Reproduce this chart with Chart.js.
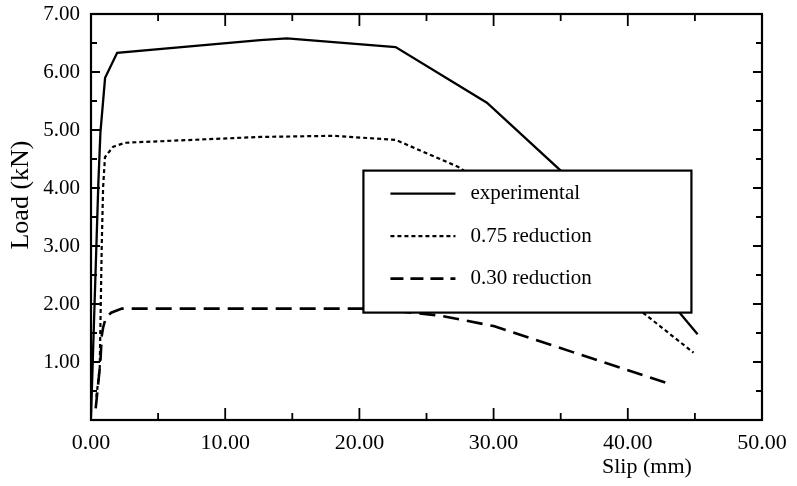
<!DOCTYPE html>
<html>
<head>
<meta charset="utf-8">
<script src="https://cdn.jsdelivr.net/npm/chart.js@4/dist/chart.umd.min.js"></script>
<style>
  html, body { margin: 0; padding: 0; background: #fff; }
  #c { display: block; }
</style>
</head>
<body>
<canvas id="c" width="797" height="486"></canvas>
<script>
// ---- data ----
const seriesLabels = ['experimental', '0.75 reduction', '0.30 reduction'];

const expX = [0.0, 0.55, 0.7, 1.05, 1.95, 12.6, 14.6, 22.7, 29.5, 35.0, 45.2];
const expY = [0.05, 4.1, 4.95, 5.9, 6.33, 6.55, 6.58, 6.43, 5.47, 4.3, 1.48];

const r75X = [0.4, 0.65, 0.8, 0.9, 1.04, 1.64, 2.53, 12.6, 18.0, 22.7, 27.5, 44.9];
const r75Y = [0.4, 0.9, 3.0, 4.0, 4.53, 4.71, 4.78, 4.88, 4.9, 4.83, 4.35, 1.16];

const r30X = [0.35, 0.7, 0.8, 0.9, 1.1, 1.5, 2.3, 21.0, 26.0, 30.0, 35.9, 42.9];
const r30Y = [0.2, 1.0, 1.45, 1.59, 1.76, 1.85, 1.92, 1.92, 1.8, 1.62, 1.17, 0.64];

const xTickLabels = ['0.00', '10.00', '20.00', '30.00', '40.00', '50.00'];
const yTickLabels = ['', '1.00', '2.00', '3.00', '4.00', '5.00', '6.00', '7.00'];
const xTitle = 'Slip (mm)';
const yTitle = 'Load (kN)';

const dashes = [[], [4, 3], [16, 8]];
const widths = [2.3, 2.2, 2.6];

function pts(xs, ys) { return xs.map((v, i) => ({ x: v, y: ys[i] })); }

const seriesData = [pts(expX, expY), pts(r75X, r75Y), pts(r30X, r30Y)];

const SERIF = '"Liberation Serif", "Times New Roman", serif';

const framePlugin = {
  id: 'frame',
  beforeDraw(chart) {
    const ctx = chart.ctx;
    ctx.save();
    ctx.fillStyle = '#fff';
    ctx.fillRect(0, 0, chart.width, chart.height);
    ctx.restore();
  },
  afterDatasetsDraw(chart) {
    const ctx = chart.ctx;
    const a = chart.chartArea;
    const xs = chart.scales.x, ys = chart.scales.y;
    ctx.save();
    ctx.strokeStyle = '#000';
    ctx.lineWidth = 2.2;
    ctx.setLineDash([]);
    ctx.strokeRect(a.left, a.top, a.right - a.left, a.bottom - a.top);
    // inward ticks on all four sides
    ctx.lineWidth = 1.8;
    ctx.beginPath();
    for (let v = 0; v <= 50; v += 5) {
      const px = xs.getPixelForValue(v);
      const len = (v % 10 === 0) ? 12 : 7;
      ctx.moveTo(px, a.bottom); ctx.lineTo(px, a.bottom - len);
      ctx.moveTo(px, a.top); ctx.lineTo(px, a.top + len);
    }
    for (let k = 0; k <= 14; k++) {
      const v = k * 0.5;
      const py = ys.getPixelForValue(v);
      const len = (k % 2 === 0) ? 9 : 6;
      ctx.moveTo(a.left, py); ctx.lineTo(a.left + len, py);
      ctx.moveTo(a.right, py); ctx.lineTo(a.right - len, py);
    }
    ctx.stroke();

    // legend box
    const lx = xs.getPixelForValue(20.3), ly = ys.getPixelForValue(4.3);
    const lw = 328, lh = 142;
    ctx.fillStyle = '#fff';
    ctx.fillRect(lx, ly, lw, lh);
    ctx.lineWidth = 2.2;
    ctx.strokeRect(lx, ly, lw, lh);
    ctx.font = '21px ' + SERIF;
    ctx.fillStyle = '#000';
    ctx.textBaseline = 'middle';
    ctx.textAlign = 'left';
    seriesLabels.forEach((lab, i) => {
      const yy = ly + 23 + i * 42.5;
      ctx.beginPath();
      ctx.setLineDash(i === 2 ? [13, 7] : dashes[i]);
      ctx.lineWidth = widths[i];
      ctx.moveTo(lx + 27, yy);
      ctx.lineTo(lx + 92, yy);
      ctx.stroke();
      ctx.setLineDash([]);
      ctx.fillText(lab, lx + 107, yy);
    });

    // axis titles
    ctx.font = '22px ' + SERIF;
    ctx.textAlign = 'left';
    ctx.fillText(xTitle, 602, 467);
    ctx.save();
    ctx.translate(21, 195);
    ctx.rotate(-Math.PI / 2);
    ctx.textAlign = 'center';
    ctx.font = '26px ' + SERIF;
    ctx.fillText(yTitle, 0, 0);
    ctx.restore();
    ctx.restore();
  }
};

new Chart(document.getElementById('c'), {
  type: 'line',
  data: {
    datasets: seriesLabels.map((lab, i) => ({
      label: lab,
      data: seriesData[i],
      borderColor: '#000',
      borderWidth: widths[i],
      borderDash: dashes[i],
      pointRadius: 0,
      tension: 0,
      fill: false
    }))
  },
  options: {
    responsive: false,
    animation: false,
    devicePixelRatio: 1,
    layout: { padding: { top: 14, right: 35, left: 0, bottom: 0 } },
    plugins: { legend: { display: false }, tooltip: { enabled: false } },
    scales: {
      x: {
        type: 'linear', min: 0, max: 50,
        afterFit(s) { s.height = 66; s.paddingLeft = 0; s.paddingRight = 0; },
        border: { display: false },
        grid: { display: false, drawTicks: false },
        ticks: {
          stepSize: 10, padding: 10, color: '#000', maxRotation: 0,
          font: { family: SERIF, size: 22 },
          callback: (v) => { const i = Math.round(v / 10); return xTickLabels[i] ?? ''; }
        }
      },
      y: {
        type: 'linear', min: 0, max: 7,
        afterFit(s) { s.width = 91; s.paddingTop = 0; s.paddingBottom = 0; },
        border: { display: false },
        grid: { display: false, drawTicks: false },
        ticks: {
          stepSize: 1, padding: 11, color: '#000',
          font: { family: SERIF, size: 21 },
          callback: (v) => yTickLabels[Math.round(v)] ?? ''
        }
      }
    }
  },
  plugins: [framePlugin]
});
</script>
</body>
</html>
